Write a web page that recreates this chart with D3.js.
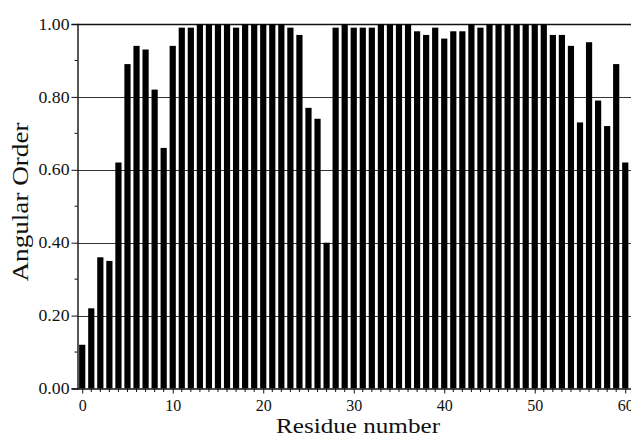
<!DOCTYPE html>
<html>
<head>
<meta charset="utf-8">
<script src="https://cdn.jsdelivr.net/npm/d3@7"></script>
<style>
  body { margin: 0; background: #fff; }
  text { font-family: "Liberation Serif", "Times New Roman", serif; fill: #111; }
</style>
</head>
<body>
<div id="chart"></div>
<script>
// residue numbers and angular order
var residues = d3.range(0, 61);
var angularOrder = [
  0.12, 0.22, 0.36, 0.35, 0.62, 0.89, 0.94, 0.93, 0.82, 0.66,
  0.94, 0.99, 0.99, 1.00, 1.00, 1.00, 1.00, 0.99, 1.00, 1.00,
  1.00, 1.00, 1.00, 0.99, 0.97, 0.77, 0.74, 0.40, 0.99, 1.00,
  0.99, 0.99, 0.99, 1.00, 1.00, 1.00, 1.00, 0.98, 0.97, 0.99,
  0.96, 0.98, 0.98, 1.00, 0.99, 1.00, 1.00, 1.00, 1.00, 1.00,
  1.00, 1.00, 0.97, 0.97, 0.94, 0.73, 0.95, 0.79, 0.72, 0.89,
  0.62
];
var xTicks = [0, 10, 20, 30, 40, 50, 60];
var yTicks = [0, 0.2, 0.4, 0.6, 0.8, 1.0];

var data = residues.map(function(r, i) { return { residue: r, value: angularOrder[i] }; });

var svgWidth = 631;
var svgHeight = 438;

var svg = d3.select("#chart")
  .append("svg")
  .attr("width", svgWidth)
  .attr("height", svgHeight);

// scales (x runs off the right edge like the scan)
var xScale = d3.scaleLinear()
  .domain([-0.5, 61])
  .range([77.7, 634.3]);

var yScale = d3.scaleLinear()
  .domain([0, 1])
  .range([388.5, 24]);

var x0 = 77.5;

// gridlines
svg.append("g")
  .selectAll("line")
  .data(yTicks.slice(1))
  .enter()
  .append("line")
  .attr("x1", x0)
  .attr("x2", svgWidth)
  .attr("y1", d => Math.round(yScale(d)) + 0.5)
  .attr("y2", d => Math.round(yScale(d)) + 0.5)
  .attr("stroke", d => d === 1 ? "#111" : "#333")
  .attr("stroke-width", d => d === 1 ? 1.6 : 1);

// bars
var barWidth = 6.2;
svg.append("g")
  .selectAll("rect")
  .data(data)
  .enter()
  .append("rect")
  .attr("x", d => xScale(d.residue) - barWidth / 2)
  .attr("y", d => yScale(d.value))
  .attr("width", barWidth)
  .attr("height", d => yScale(0) - yScale(d.value))
  .attr("fill", "#000");

// y axis
var leftAxis = d3.axisLeft(yScale)
  .tickValues(yTicks)
  .tickFormat(d3.format(".2f"))
  .tickSize(6)
  .tickPadding(2);

var yAxisG = svg.append("g")
  .attr("transform", `translate(${x0}, 0)`)
  .call(leftAxis);
yAxisG.select(".domain").attr("stroke", "#111").attr("stroke-width", 1.4);
yAxisG.selectAll(".tick line").attr("stroke", "#111");
yAxisG.selectAll(".tick text")
  .attr("font-size", "16px")
  .attr("textLength", 31)
  .attr("lengthAdjust", "spacingAndGlyphs");

// y minor ticks
svg.append("g")
  .selectAll("line")
  .data([0.1, 0.3, 0.5, 0.7, 0.9])
  .enter()
  .append("line")
  .attr("x1", x0 - 3)
  .attr("x2", x0)
  .attr("y1", d => yScale(d))
  .attr("y2", d => yScale(d))
  .attr("stroke", "#111");

// x axis
var bottomAxis = d3.axisBottom(xScale)
  .tickValues(xTicks)
  .tickFormat(d3.format("d"))
  .tickSize(5)
  .tickPadding(6);

var xAxisG = svg.append("g")
  .attr("transform", `translate(0, ${yScale(0)})`)
  .call(bottomAxis);
xAxisG.select(".domain").attr("d", `M${x0},0.5H${svgWidth}`).attr("stroke", "#111").attr("stroke-width", 1.4);
xAxisG.selectAll(".tick line").attr("stroke", "#111");
xAxisG.selectAll(".tick text")
  .attr("font-size", "16px");

// x minor ticks at every residue
svg.append("g")
  .selectAll("line")
  .data(residues.filter(r => r % 10 !== 0))
  .enter()
  .append("line")
  .attr("x1", d => xScale(d))
  .attr("x2", d => xScale(d))
  .attr("y1", yScale(0))
  .attr("y2", yScale(0) + 3.5)
  .attr("stroke", "#111");

// axis titles
svg.append("text")
  .attr("transform", "translate(28, 202) rotate(-90)")
  .attr("text-anchor", "middle")
  .attr("font-size", "23px")
  .attr("textLength", 159)
  .attr("lengthAdjust", "spacingAndGlyphs")
  .text("Angular Order");

svg.append("text")
  .attr("x", 358)
  .attr("y", 433)
  .attr("text-anchor", "middle")
  .attr("font-size", "20px")
  .attr("textLength", 164)
  .attr("lengthAdjust", "spacingAndGlyphs")
  .text("Residue number");
</script>
</body>
</html>
